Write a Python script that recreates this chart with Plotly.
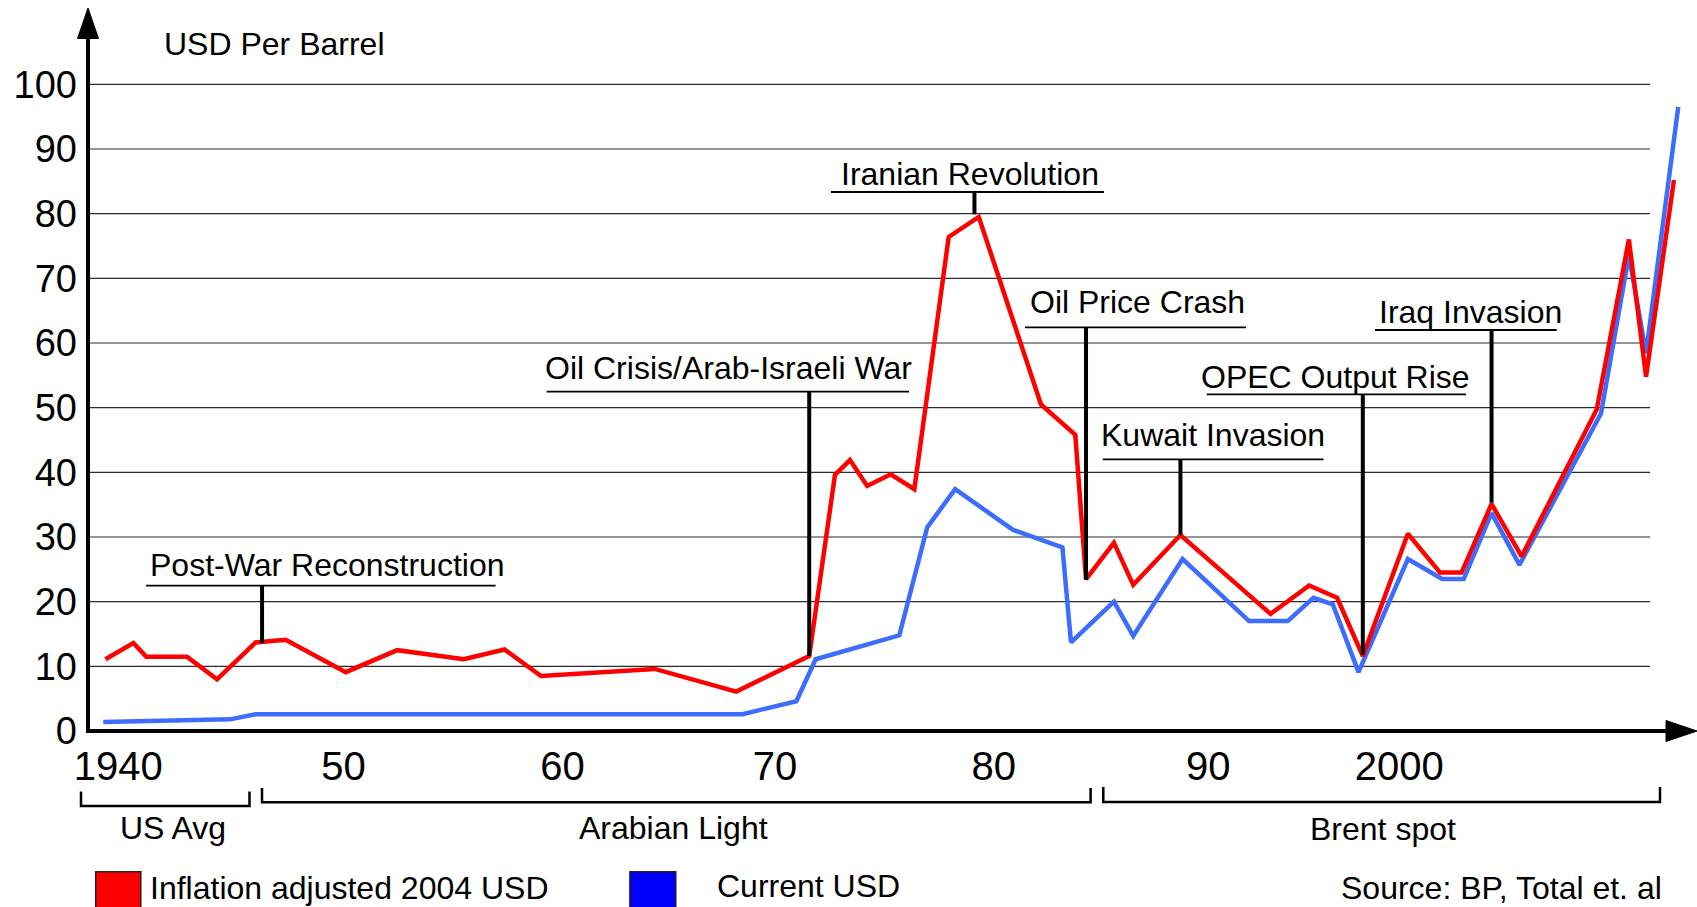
import plotly.graph_objects as go

# ---------------- data ----------------
red_years = [1939.0, 1940.3, 1940.9, 1942.8, 1944.2, 1946.0, 1947.4, 1950.2, 1952.6, 1955.7,
             1957.6, 1959.3, 1964.6, 1968.4, 1971.8, 1973.0, 1973.7, 1974.5, 1975.6, 1976.7,
             1978.3, 1979.7, 1982.6, 1984.2, 1984.7, 1986.0, 1986.9, 1989.1, 1993.3, 1995.1,
             1996.4, 1997.6, 1999.7, 2001.2, 2002.2, 2003.6, 2005.0, 2008.5, 2010.0, 2010.8,
             2012.1]
red_values = [11.1, 13.6, 11.5, 11.5, 8.0, 13.7, 14.1, 9.1, 12.5, 11.1,
              12.6, 8.5, 9.6, 6.1, 11.6, 39.6, 41.9, 37.9, 39.7, 37.4,
              76.4, 79.5, 50.5, 45.8, 23.5, 29.1, 22.6, 30.3, 18.1, 22.5,
              20.6, 11.6, 30.5, 24.5, 24.5, 35.1, 27.0, 49.7, 76.0, 54.8,
              85.2]

blue_years = [1938.9, 1944.8, 1946.0, 1968.7, 1971.2, 1972.1, 1976.0, 1977.3, 1978.6, 1981.3,
              1983.6, 1984.0, 1986.0, 1986.9, 1989.2, 1992.3, 1994.1, 1995.3, 1996.2, 1997.4,
              1999.7, 2001.3, 2002.3, 2003.6, 2004.9, 2008.7, 2010.0, 2010.8, 2012.3]
blue_values = [1.4, 1.8, 2.6, 2.6, 4.6, 11.1, 14.8, 31.5, 37.4, 31.1,
               28.4, 13.7, 20.0, 14.7, 26.6, 17.0, 17.0, 20.6, 19.6, 9.1,
               26.6, 23.5, 23.5, 33.7, 25.7, 49.1, 73.6, 58.4, 96.5]

event_names = ["Post-War Reconstruction", "Oil Crisis/Arab-Israeli War", "Iranian Revolution",
               "Oil Price Crash", "Kuwait Invasion", "OPEC Output Rise", "Iraq Invasion"]
event_years = [1946.3, 1971.8, 1979.5, 1984.7, 1989.1, 1997.6, 2003.6]
event_values = [13.6, 11.6, 79.9, 23.4, 30.3, 11.8, 35.3]

y_ticks = [0, 10, 20, 30, 40, 50, 60, 70, 80, 90, 100]
x_tick_labels = ["1940", "50", "60", "70", "80", "90", "2000"]
x_tick_positions = [1939.6, 1950.1, 1960.3, 1970.2, 1980.4, 1990.4, 1999.3]

source_names = ["US Avg", "Arabian Light", "Brent spot"]
series_names = ["Inflation adjusted 2004 USD", "Current USD"]

# ---------------- layout geometry (pixels) ----------------
W, H = 1697, 907
L, R, T, B = 88, 1690, 40, 731
X_RANGE = [1970 + (L - 770.6) / 21.457, 1970 + (R - 770.6) / 21.457]
Y_RANGE = [0, (B - T) / 6.4667]


def PX(px):
    return (px - L) / (R - L)


def PY(py):
    return (B - py) / (B - T)


def XV(px):
    return X_RANGE[0] + (px - L) / (R - L) * (X_RANGE[1] - X_RANGE[0])


def YV(py):
    return Y_RANGE[0] + (B - py) / (B - T) * (Y_RANGE[1] - Y_RANGE[0])


FONT = "Liberation Sans, Arial, sans-serif"
RED = "#ff0000"
BLUE_LINE = "#3d6dfc"

fig = go.Figure()
fig.add_trace(go.Scatter(x=blue_years, y=blue_values, mode="lines", name=series_names[1],
                         line=dict(color=BLUE_LINE, width=4.5), hoverinfo="skip"))
fig.add_trace(go.Scatter(x=red_years, y=red_values, mode="lines", name=series_names[0],
                         line=dict(color=RED, width=4.5), hoverinfo="skip"))

shapes = []
annotations = []

# gridlines
for v in y_ticks[1:]:
    shapes.append(dict(type="line", xref="paper", yref="y", x0=0, x1=PX(1650), y0=v, y1=v,
                       line=dict(color="#2a2a2a", width=1.2), layer="below"))

# axes with arrows
shapes.append(dict(type="line", xref="paper", yref="paper", x0=PX(L), x1=PX(L), y0=PY(733), y1=PY(36),
                   line=dict(color="black", width=4)))
shapes.append(dict(type="path", xref="paper", yref="paper",
                   path=f"M {PX(88)},{PY(8)} L {PX(77.5)},{PY(38.5)} L {PX(98.5)},{PY(38.5)} Z",
                   fillcolor="black", line=dict(color="black", width=1)))
shapes.append(dict(type="line", xref="paper", yref="paper", x0=PX(86), x1=PX(1668), y0=PY(B), y1=PY(B),
                   line=dict(color="black", width=4)))
shapes.append(dict(type="path", xref="paper", yref="paper",
                   path=f"M {PX(1697)},{PY(731)} L {PX(1666)},{PY(720.5)} L {PX(1666)},{PY(741.5)} Z",
                   fillcolor="black", line=dict(color="black", width=1)))

# event labels: text centre (px), underline x0, x1, y (px)
event_layout = [
    (327, 565, 146, 495.6, 585.7),
    (728, 368, 546.6, 909, 391.7),
    (970.5, 173.5, 831, 1104, 192),
    (1137.6, 301.7, 1025, 1246, 327.3),
    (1213, 435, 1102.8, 1323.6, 459.3),
    (1335, 376.7, 1206.8, 1466, 394.3),
    (1470, 311.7, 1375, 1556.7, 330),
]
for name, yr, val, (cx, cy, ux0, ux1, uy) in zip(event_names, event_years, event_values, event_layout):
    shapes.append(dict(type="line", xref="x", yref="y", x0=XV(ux0), x1=XV(ux1), y0=YV(uy), y1=YV(uy),
                       line=dict(color="black", width=1.8)))
    shapes.append(dict(type="line", xref="x", yref="y", x0=yr, x1=yr, y0=YV(uy), y1=val,
                       line=dict(color="black", width=4)))
    annotations.append(dict(text=name, xref="paper", yref="paper", x=PX(cx), y=PY(cy),
                            xanchor="center", yanchor="middle", showarrow=False,
                            font=dict(family=FONT, size=32, color="black")))

# y axis title
annotations.append(dict(text="USD Per Barrel", xref="paper", yref="paper", x=PX(274), y=PY(43.5),
                        xanchor="center", yanchor="middle", showarrow=False,
                        font=dict(family=FONT, size=32, color="black")))

# source brackets: x0, x1, bottom y, top y, label centre x, y
bracket_layout = [
    (81, 249.5, 806, 791.5, 173, 828),
    (262, 1090.6, 802.3, 788, 673, 828),
    (1103.3, 1660, 802, 787, 1382.5, 829),
]
for name, (bx0, bx1, by, bt, lx, ly) in zip(source_names, bracket_layout):
    shapes.append(dict(type="path", xref="paper", yref="paper",
                       path=f"M {PX(bx0)},{PY(bt)} L {PX(bx0)},{PY(by)} L {PX(bx1)},{PY(by)} L {PX(bx1)},{PY(bt)}",
                       line=dict(color="black", width=2.5)))
    annotations.append(dict(text=name, xref="paper", yref="paper", x=PX(lx), y=PY(ly),
                            xanchor="center", yanchor="middle", showarrow=False,
                            font=dict(family=FONT, size=32, color="black")))

# legend (custom squares)
legend_layout = [
    ("#ff0000", 95.7, 140.8, 349, 888),
    ("#0000ff", 629.9, 675.8, 808.5, 885.5),
]
for name, (col, sx0, sx1, tx, ty) in zip(series_names, legend_layout):
    shapes.append(dict(type="rect", xref="paper", yref="paper", x0=PX(sx0), x1=PX(sx1),
                       y0=PY(871.7), y1=PY(918), fillcolor=col, line=dict(color="#222222", width=1.5)))
    annotations.append(dict(text=name, xref="paper", yref="paper", x=PX(tx), y=PY(ty),
                            xanchor="center", yanchor="middle", showarrow=False,
                            font=dict(family=FONT, size=32, color="black")))

annotations.append(dict(text="Source: BP, Total et. al", xref="paper", yref="paper", x=PX(1501.5), y=PY(887.5),
                        xanchor="center", yanchor="middle", showarrow=False,
                        font=dict(family=FONT, size=32, color="black")))

fig.update_layout(
    width=W, height=H,
    margin=dict(l=L, r=W - R, t=T, b=H - B, pad=0),
    paper_bgcolor="white", plot_bgcolor="white",
    showlegend=False,
    shapes=shapes, annotations=annotations,
    font=dict(family=FONT, color="black"),
    xaxis=dict(range=X_RANGE, showgrid=False, zeroline=False, showline=False, ticks="",
               tickvals=x_tick_positions, ticktext=x_tick_labels,
               tickfont=dict(family=FONT, size=40, color="black"), ticklabelstandoff=8,
               fixedrange=True),
    yaxis=dict(range=Y_RANGE, showgrid=False, zeroline=False, showline=False, ticks="",
               tickvals=y_ticks, ticktext=[str(v) for v in y_ticks],
               tickfont=dict(family=FONT, size=38, color="black"), ticklabelstandoff=10,
               fixedrange=True),
)

fig.write_html("out.html", include_plotlyjs=True, config={"displayModeBar": False},
               post_script="document.body.style.margin='0';document.body.style.overflow='hidden';")
